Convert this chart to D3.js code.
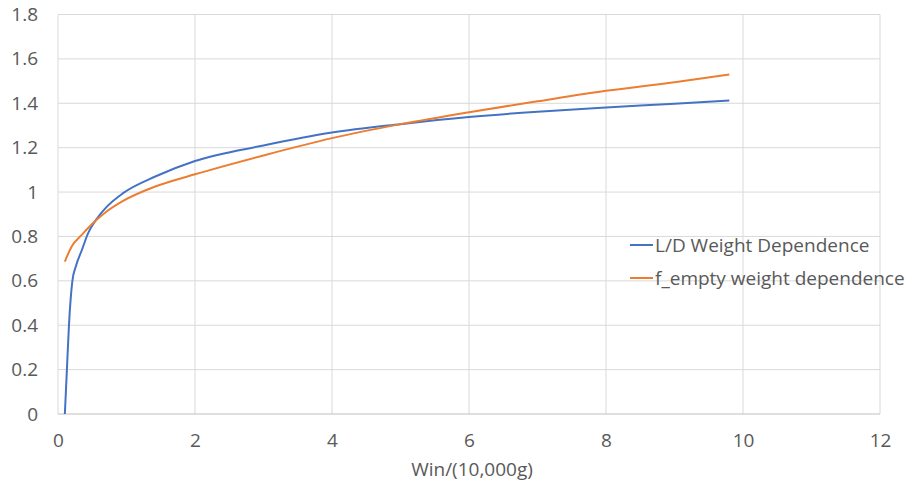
<!DOCTYPE html>
<html>
<head>
<meta charset="utf-8">
<script src="https://cdn.jsdelivr.net/npm/d3@7"></script>
<style>
  body { margin: 0; background: #fff; }
  text { font-family: "Open Sans", sans-serif; fill: #595959; }
</style>
</head>
<body>
<div id="chart"></div>
<script>
// values
const ldX = [0.1, 0.13, 0.16, 0.21, 0.26, 0.35, 0.44, 0.54, 0.7, 0.95, 1.42, 2, 3, 4, 5, 6, 7, 8, 9, 9.8];
const ldY = [0, 0.2, 0.4, 0.6, 0.665, 0.74, 0.815, 0.868, 0.93, 0.995, 1.07, 1.14, 1.21, 1.268, 1.306, 1.338, 1.362, 1.381, 1.398, 1.413];
const feX = [0.1, 0.2, 0.35, 0.54, 0.7, 0.95, 1.42, 2, 3, 4, 5, 6, 7, 8, 9, 9.8];
const feY = [0.687, 0.755, 0.808, 0.868, 0.91, 0.96, 1.025, 1.08, 1.165, 1.243, 1.306, 1.36, 1.409, 1.456, 1.495, 1.53];
const xTicks = [0, 2, 4, 6, 8, 10, 12];
const yTicks = [0, 0.2, 0.4, 0.6, 0.8, 1, 1.2, 1.4, 1.6, 1.8];
const seriesNames = ['L/D Weight Dependence', 'f_empty weight dependence'];
const colors = ['#4472C4', '#ED7D31'];

const W = 914, H = 489;
const margin = { top: 14.5, right: 34, bottom: 75, left: 58 };
const fontSize = 19;

const svg = d3.select('#chart').append('svg')
  .attr('width', W)
  .attr('height', H);

const g = svg.append('g')
  .attr('transform', `translate(${margin.left},${margin.top})`);

const width = W - margin.left - margin.right;
const height = H - margin.top - margin.bottom;

const x = d3.scaleLinear().domain([0, 12]).range([0, width]);
const y = d3.scaleLinear().domain([0, 1.8]).range([height, 0]);

// grid
g.append('g')
  .selectAll('line')
  .data(yTicks.slice(1))
  .join('line')
  .attr('x1', 0).attr('x2', width)
  .attr('y1', d => y(d)).attr('y2', d => y(d))
  .attr('stroke', '#D9D9D9').attr('stroke-width', 1);

g.append('g')
  .selectAll('line')
  .data(xTicks)
  .join('line')
  .attr('x1', d => x(d)).attr('x2', d => x(d))
  .attr('y1', 0).attr('y2', height)
  .attr('stroke', '#D9D9D9').attr('stroke-width', 1);

// bottom axis line
g.append('line')
  .attr('x1', 0).attr('x2', width)
  .attr('y1', height).attr('y2', height)
  .attr('stroke', '#BFBFBF').attr('stroke-width', 1);

// tick labels
const xAxis = d3.axisBottom(x).tickValues(xTicks).tickSize(0).tickPadding(20).tickFormat(d3.format('d'));
const xg = g.append('g').attr('transform', `translate(0,${height})`).call(xAxis);
xg.select('.domain').remove();
xg.selectAll('text').attr('font-size', fontSize).style('font-family', '"Open Sans", sans-serif').attr('fill', '#595959');

const yAxis = d3.axisLeft(y).tickValues(yTicks).tickSize(0).tickPadding(20).tickFormat(d => String(+d.toFixed(1)));
const yg = g.append('g').call(yAxis);
yg.select('.domain').remove();
yg.selectAll('text').attr('font-size', fontSize).style('font-family', '"Open Sans", sans-serif').attr('fill', '#595959');

// axis title
g.append('text')
  .attr('x', width / 2 + 3)
  .attr('y', height + 62)
  .attr('text-anchor', 'middle')
  .attr('font-size', fontSize)
  .text('Win/(10,000g)');

// lines
const line = d3.line()
  .curve(d3.curveMonotoneX)
  .x(d => x(d[0]))
  .y(d => y(d[1]));

const series = [d3.zip(ldX, ldY), d3.zip(feX, feY)];

g.selectAll('path.series')
  .data(series)
  .join('path')
  .attr('class', 'series')
  .attr('fill', 'none')
  .attr('stroke', (d, i) => colors[i])
  .attr('stroke-width', 2)
  .attr('stroke-linejoin', 'round')
  .attr('d', line);

// legend
const legend = svg.append('g').attr('transform', 'translate(630,245)');
seriesNames.forEach((name, i) => {
  const row = legend.append('g').attr('transform', `translate(0,${i * 33})`);
  row.append('line')
    .attr('x1', 0).attr('x2', 23)
    .attr('stroke', colors[i]).attr('stroke-width', 2);
  row.append('text')
    .attr('x', 25)
    .attr('dy', '0.35em')
    .attr('font-size', fontSize)
    .text(name);
});
</script>
</body>
</html>
